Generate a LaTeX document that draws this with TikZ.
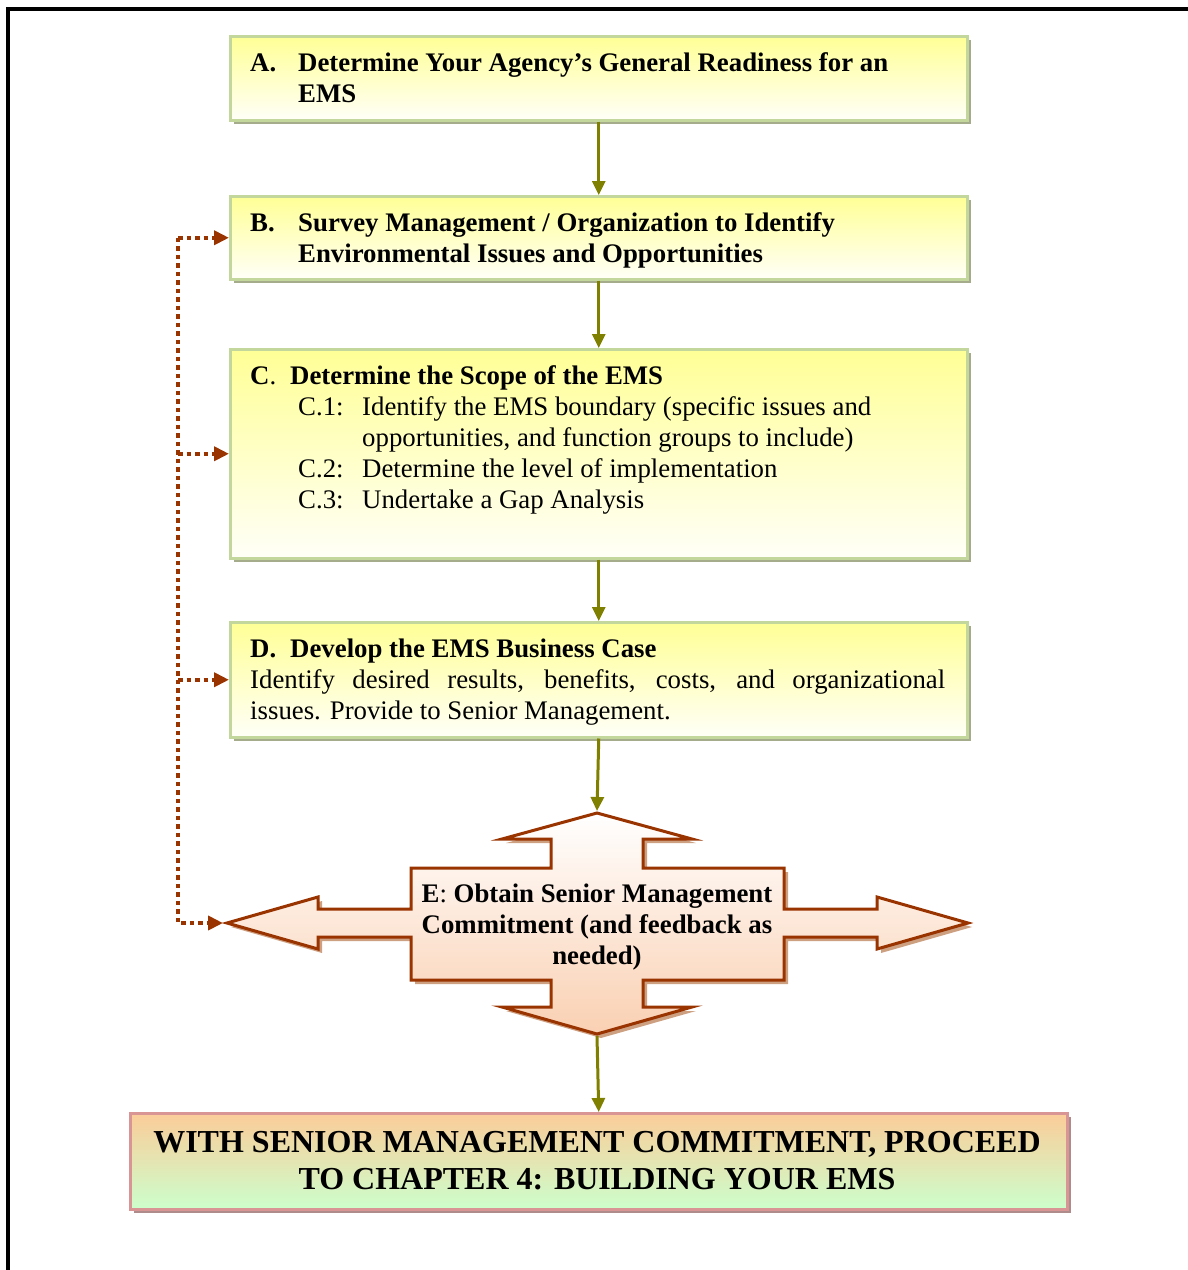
\documentclass[tikz,border=0pt]{standalone}
\usepackage{fontspec}
\setmainfont{Liberation Serif}
\usetikzlibrary{arrows.meta,shadows}
\definecolor{boxborder}{RGB}{195,214,155}
\definecolor{boxtop}{RGB}{255,255,150}
\definecolor{boxbot}{RGB}{255,255,248}
\definecolor{boxshadow}{RGB}{165,172,140}
\definecolor{olivec}{RGB}{128,128,0}
\definecolor{rust}{RGB}{153,51,0}
\definecolor{crossbot}{RGB}{250,208,178}
\definecolor{crossshadow}{RGB}{205,160,130}
\definecolor{fintop}{RGB}{251,204,153}
\definecolor{finbot}{RGB}{204,255,204}
\definecolor{finborder}{RGB}{217,149,148}
\definecolor{finshadow}{RGB}{175,140,140}
\tikzset{
  ybox/.style={draw=boxborder, line width=2.5pt, top color=boxtop, bottom color=boxbot,
    anchor=north west, inner sep=0pt,
    drop shadow={fill=boxshadow, opacity=1, shadow xshift=4pt, shadow yshift=-4pt}},
  txt/.style={font=\fontsize{26.8}{31}\selectfont, inner sep=0pt, anchor=base west},
  flow/.style={draw=olivec, line width=3pt, -{Triangle[length=14pt,width=13pt]}},
  fb/.style={draw=rust, line width=4.5pt, dash pattern=on 4.5pt off 4pt,
    -{Triangle[length=15pt,width=14pt]}},
}
\begin{document}
\begin{tikzpicture}[x=1pt,y=-1pt]
\useasboundingbox (0,0) rectangle (1188,1270);
% frame
\draw[line width=3.5pt, line cap=rect] (8,1275) -- (8,9) -- (1195,9);

% boxes
\node[ybox, minimum width=737pt, minimum height=84pt] (A) at (229,35) {};
\node[ybox, minimum width=737pt, minimum height=83pt] (B) at (229,195) {};
\node[ybox, minimum width=737pt, minimum height=209pt] (C) at (229,348) {};
\node[ybox, minimum width=737pt, minimum height=115pt] (D) at (229,621) {};
\node[draw=finborder, line width=2.5pt, top color=fintop, bottom color=finbot,
  anchor=north west, inner sep=0pt, minimum width=937pt, minimum height=96pt,
  drop shadow={fill=finshadow, opacity=1, shadow xshift=4pt, shadow yshift=-4pt}]
  (F) at (129,1112) {};

% cross E
\draw[draw=rust, line width=3pt, line join=miter, top color=white, bottom color=crossbot,
  drop shadow={fill=crossshadow, opacity=1, shadow xshift=4pt, shadow yshift=-4pt}]
  (597,813) -- (692,839) -- (643,839) -- (643,868) -- (784,868) -- (784,909) -- (877,909)
  -- (877,897) -- (968,923) -- (877,949) -- (877,937) -- (784,937) -- (784,980)
  -- (643,980) -- (643,1007) -- (692,1007) -- (597,1034) -- (502,1007) -- (551,1007)
  -- (551,980) -- (411,980) -- (411,937) -- (318,937) -- (318,949) -- (227,923)
  -- (318,897) -- (318,909) -- (411,909) -- (411,868) -- (551,868) -- (551,839)
  -- (502,839) -- cycle;
\coordinate (Etop) at (597,811);
\coordinate (Ebot) at (597,1036);
\coordinate (Eleft) at (223,923);
\node[font=\bfseries\fontsize{26.8}{31}\selectfont, align=center, inner sep=0pt, anchor=base]
  (E) at (597,964.5) {\textbf{E}\mdseries:\bfseries{} Obtain Senior Management\\Commitment (and feedback as\\needed)};

% texts A
\node[txt] (Al) at (250,71.5) {\textbf{A.}};
\node[txt] (A1) at (298,71.5) {\textbf{Determine Your Agency's General Readiness for an}};
\node[txt] (A2) at (298,102.5) {\textbf{EMS}};
% B
\node[txt] (Bl) at (250,231.5) {\textbf{B.}};
\node[txt] (B1) at (298,231.5) {\textbf{Survey Management / Organization to Identify}};
\node[txt] (B2) at (298,262.5) {\textbf{Environmental Issues and Opportunities}};
% C
\node[txt] (Cl) at (250,384.5) {\textbf{C}.};
\node[txt] (C0) at (290,384.5) {\textbf{Determine the Scope of the EMS}};
\node[txt] (C1l) at (298,415.5) {C.1:};
\node[txt] (C1a) at (362,415.5) {Identify the EMS boundary (specific issues and};
\node[txt] (C1b) at (362,446.5) {opportunities, and function groups to include)};
\node[txt] (C2l) at (298,477.5) {C.2:};
\node[txt] (C2) at (362,477.5) {Determine the level of implementation};
\node[txt] (C3l) at (298,508.5) {C.3:};
\node[txt] (C3) at (362,508.5) {Undertake a Gap Analysis};
% D
\node[txt] (Dl) at (250,657.5) {\textbf{D.}};
\node[txt] (D0) at (290,657.5) {\textbf{Develop the EMS Business Case}};
\node[txt, anchor=north west, text width=695pt, align=justify] (D1) at (250,667)
  {\strut Identify desired results, benefits, costs, and organizational\linebreak issues. Provide to Senior Management.};
% final
\node[font=\bfseries\fontsize{32}{37}\selectfont, align=center, inner sep=0pt, anchor=base]
  (F1) at (597,1189.5) {WITH SENIOR MANAGEMENT COMMITMENT, PROCEED\\TO CHAPTER 4: BUILDING YOUR EMS};

% flow arrows
\draw[flow] (A.south) -- (B.north);
\draw[flow] (B.south) -- (C.north);
\draw[flow] (C.south) -- (D.north);
\draw[flow] (D.south) -- (Etop);
\draw[flow] (Ebot) -- (F.north);

% feedback arrows
\coordinate (bus) at (178,0);
\draw[fb] (bus |- B.west) -- (Eleft -| bus) -- (Eleft);
\draw[fb] (bus |- B.west) -- (B.west);
\draw[fb] (bus |- C.west) -- (C.west);
\draw[fb] (bus |- D.west) -- (D.west);
\end{tikzpicture}
\end{document}
